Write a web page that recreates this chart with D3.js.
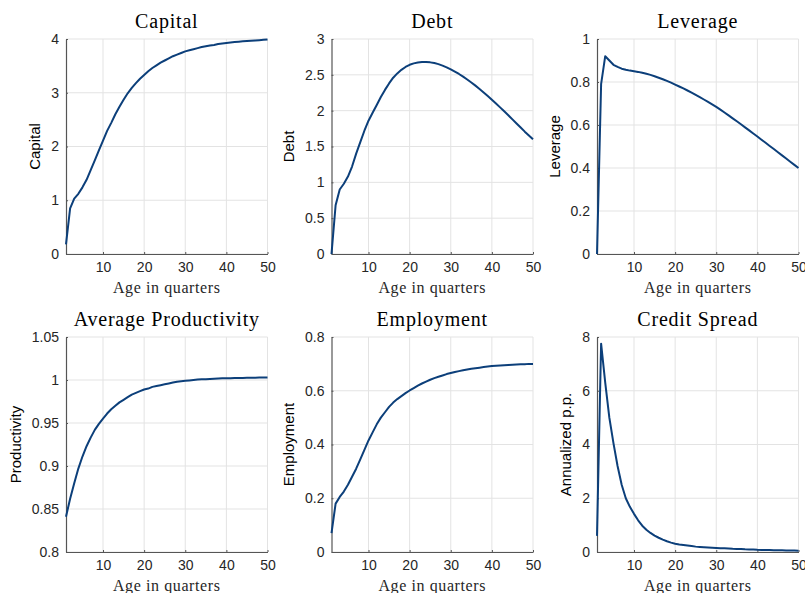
<!DOCTYPE html>
<html>
<head>
<meta charset="utf-8">
<script src="https://cdn.jsdelivr.net/npm/d3@7"></script>
<style>
  body { margin: 0; background: #fff; }
  .tick text { font-family: "Liberation Sans", Arial, sans-serif; font-size: 14px; fill: #262626; }
  .ttl { font-family: "Liberation Serif", "DejaVu Serif", serif; font-size: 20px; letter-spacing: 0.8px; fill: #000; }
  .xlab { font-family: "Liberation Serif", "DejaVu Serif", serif; font-size: 16px; letter-spacing: 0.6px; fill: #262626; }
  .ylab { font-family: "Liberation Sans", Arial, sans-serif; font-size: 15px; fill: #000; }
</style>
</head>
<body>
<div id="chart"></div>
<script>
// age in quarters
const ages = d3.range(1, 51);

const capital = [0.18, 0.85, 1.03, 1.12, 1.24, 1.38, 1.56, 1.74, 1.93, 2.11,
  2.29, 2.44, 2.6, 2.74, 2.87, 2.99, 3.09, 3.18, 3.26, 3.33,
  3.4, 3.46, 3.51, 3.56, 3.6, 3.64, 3.68, 3.71, 3.74, 3.77,
  3.79, 3.81, 3.83, 3.85, 3.865, 3.88, 3.89, 3.905, 3.915, 3.925,
  3.935, 3.943, 3.95, 3.957, 3.963, 3.969, 3.974, 3.979, 3.984, 3.99];

const debt = [0, 0.68, 0.9, 0.98, 1.08, 1.22, 1.4, 1.56, 1.72, 1.86,
  1.97, 2.08, 2.19, 2.29, 2.38, 2.46, 2.52, 2.57, 2.61, 2.64,
  2.66, 2.672, 2.679, 2.68, 2.674, 2.664, 2.649, 2.629, 2.605, 2.577,
  2.546, 2.512, 2.475, 2.435, 2.393, 2.349, 2.303, 2.255, 2.205, 2.153,
  2.1, 2.046, 1.991, 1.935, 1.878, 1.821, 1.764, 1.707, 1.653, 1.6];

const leverage = [0, 0.79, 0.92, 0.9, 0.88, 0.87, 0.862, 0.857, 0.853, 0.85,
  0.847, 0.843, 0.838, 0.833, 0.827, 0.82, 0.813, 0.805, 0.797, 0.788,
  0.7792, 0.77, 0.7604, 0.7504, 0.7401, 0.7295, 0.7186, 0.7074, 0.6959, 0.6841,
  0.6713, 0.6582, 0.6448, 0.6311, 0.6172, 0.6032, 0.5891, 0.5749, 0.5606, 0.5462,
  0.5317, 0.5172, 0.5026, 0.488, 0.4734, 0.4588, 0.4441, 0.4294, 0.4147, 0.4];

const productivity = [0.841, 0.862, 0.88, 0.897, 0.911, 0.923, 0.933, 0.942, 0.949, 0.955,
  0.961, 0.966, 0.97, 0.974, 0.977, 0.98, 0.983, 0.985, 0.987, 0.989,
  0.99, 0.992, 0.993, 0.994, 0.995, 0.996, 0.997, 0.998, 0.9985, 0.999,
  0.9995, 1.0, 1.0005, 1.001, 1.001, 1.0013, 1.0015, 1.0017, 1.0019, 1.002,
  1.0021, 1.0022, 1.0023, 1.0024, 1.0025, 1.0026, 1.0027, 1.0028, 1.0029, 1.003];

const employment = [0.07, 0.18, 0.205, 0.225, 0.25, 0.28, 0.31, 0.345, 0.38, 0.415,
  0.445, 0.475, 0.5, 0.52, 0.54, 0.556, 0.569, 0.58, 0.591, 0.601,
  0.61, 0.619, 0.627, 0.634, 0.641, 0.647, 0.652, 0.657, 0.662, 0.666,
  0.67, 0.673, 0.676, 0.679, 0.682, 0.684, 0.686, 0.688, 0.69, 0.692,
  0.693, 0.694, 0.695, 0.696, 0.697, 0.698, 0.699, 0.699, 0.7, 0.7];

const spread = [0.6, 7.75, 6.3, 5.0, 4.05, 3.2, 2.5, 2.0, 1.68, 1.42,
  1.18, 0.98, 0.83, 0.71, 0.61, 0.53, 0.46, 0.4, 0.35, 0.31,
  0.28, 0.26, 0.24, 0.22, 0.2, 0.19, 0.18, 0.17, 0.16, 0.15,
  0.14, 0.135, 0.13, 0.12, 0.115, 0.11, 0.1, 0.095, 0.09, 0.08,
  0.078, 0.075, 0.07, 0.068, 0.065, 0.062, 0.058, 0.055, 0.052, 0.05];

const xTicks = [10, 20, 30, 40, 50];

const panels = [
  { title: "Capital", ylabel: "Capital", values: capital, domain: [0, 4], ticks: [0, 1, 2, 3, 4] },
  { title: "Debt", ylabel: "Debt", values: debt, domain: [0, 3], ticks: [0, 0.5, 1, 1.5, 2, 2.5, 3] },
  { title: "Leverage", ylabel: "Leverage", values: leverage, domain: [0, 1], ticks: [0, 0.2, 0.4, 0.6, 0.8, 1] },
  { title: "Average Productivity", ylabel: "Productivity", values: productivity, domain: [0.8, 1.05], ticks: [0.8, 0.85, 0.9, 0.95, 1, 1.05] },
  { title: "Employment", ylabel: "Employment", values: employment, domain: [0, 0.8], ticks: [0, 0.2, 0.4, 0.6, 0.8] },
  { title: "Credit Spread", ylabel: "Annualized p.p.", values: spread, domain: [0, 8], ticks: [0, 2, 4, 6, 8] }
];

const W = 805, H = 593;
const lefts = [66, 331.5, 597];
const tops = [39, 337];
const pw = 201.5, ph = 215;
const lineColor = "#0c3f7a";

const svg = d3.select("#chart").append("svg")
  .attr("width", W).attr("height", H);

panels.forEach((p, i) => {
  const g = svg.append("g")
    .attr("transform", `translate(${lefts[i % 3]},${tops[Math.floor(i / 3)]})`);

  const x = d3.scaleLinear().domain([1, 50]).range([0, pw]);
  const y = d3.scaleLinear().domain(p.domain).range([ph, 0]);

  // grid
  g.append("g").selectAll("line").data(xTicks).join("line")
    .attr("x1", d => x(d)).attr("x2", d => x(d))
    .attr("y1", 0).attr("y2", ph)
    .attr("stroke", "#e3e3e3").attr("stroke-width", 1);
  g.append("g").selectAll("line").data(p.ticks).join("line")
    .attr("x1", 0).attr("x2", pw)
    .attr("y1", d => y(d)).attr("y2", d => y(d))
    .attr("stroke", "#e3e3e3").attr("stroke-width", 1);

  // axes
  const xAxis = g.append("g")
    .attr("transform", `translate(0,${ph})`)
    .call(d3.axisBottom(x).tickValues(xTicks).tickSizeInner(-2).tickSizeOuter(0).tickPadding(8));
  const yAxis = g.append("g")
    .call(d3.axisLeft(y).tickValues(p.ticks).tickFormat(d3.format("")).tickSizeInner(-2).tickSizeOuter(0).tickPadding(7));
  [xAxis, yAxis].forEach(a => {
    a.select(".domain").attr("stroke", "#555").attr("stroke-width", 1.2);
    a.selectAll(".tick line").attr("stroke", "#555");
  });

  // line
  const line = d3.line().x((d, j) => x(ages[j])).y(d => y(d));
  g.append("path")
    .datum(p.values)
    .attr("fill", "none")
    .attr("stroke", lineColor)
    .attr("stroke-width", 2)
    .attr("stroke-linejoin", "round")
    .attr("d", line);

  // labels
  g.append("text").attr("class", "ttl")
    .attr("x", pw / 2).attr("y", -11)
    .attr("text-anchor", "middle").text(p.title);

  g.append("text").attr("class", "xlab")
    .attr("x", pw / 2).attr("y", ph + 39)
    .attr("text-anchor", "middle").text("Age in quarters");

  let maxW = 0;
  yAxis.selectAll(".tick text").each(function () {
    maxW = Math.max(maxW, this.getComputedTextLength());
  });
  g.append("text").attr("class", "ylab")
    .attr("transform", `translate(${-(maxW + 18)},${ph / 2}) rotate(-90)`)
    .attr("text-anchor", "middle").text(p.ylabel);
});
</script>
</body>
</html>
